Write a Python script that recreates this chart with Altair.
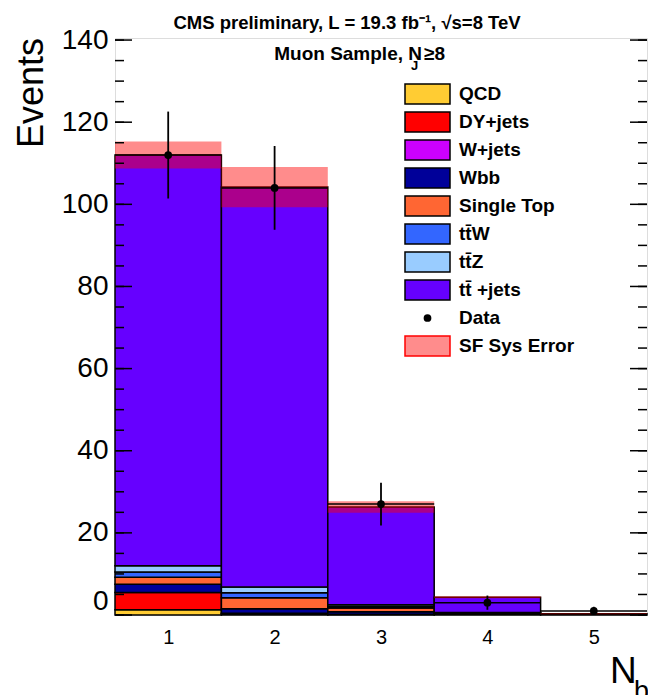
import altair as alt
import pandas as pd
import numpy as np

# ---- data ----
bins = [1, 2, 3, 4, 5]
processes = ["QCD", "DY+jets", "W+jets", "Wbb", "Single Top", "tt̄W", "tt̄Z", "tt̄ +jets"]
colors = ["#ffcc33", "#ff0000", "#cc00ff", "#000099", "#ff6633", "#3366ff", "#99ccff", "#6600ff"]
qcd = [1.3, 0.3, 0.1, 0.0, 0.0]
dy = [4.2, 0.1, 0.1, 0.0, 0.0]
wjets = [0.0, 0.0, 0.0, 0.0, 0.0]
wbb = [2.0, 1.1, 0.6, 0.2, 0.0]
single_top = [1.7, 2.7, 0.9, 0.2, 0.0]
ttw = [1.3, 1.2, 0.4, 0.1, 0.0]
ttz = [1.5, 1.4, 0.4, 0.1, 0.0]
ttjets = [100.0, 97.4, 23.8, 3.7, 0.3]
sf_sys_err = [3.3, 4.9, 1.4, 0.25, 0.1]
data_counts = [112, 104, 27, 3, 1]
y_major = [0, 20, 40, 60, 80, 100, 120, 140]
y_minor = list(range(0, 141, 5))

series = [qcd, dy, wjets, wbb, single_top, ttw, ttz, ttjets]

# ---- build tables ----
rows = []
cum = np.zeros(len(bins))
for name, vals in zip(processes, series):
    for i, b in enumerate(bins):
        v = vals[i]
        if v > 0:
            rows.append({"proc": name, "lo": b - 0.5, "hi": b + 0.5,
                         "y0": cum[i], "y1": cum[i] + v})
    cum = cum + np.array(vals)
stack_df = pd.DataFrame(rows)

total = cum
band_df = pd.DataFrame({"lo": [b - 0.5 for b in bins], "hi": [b + 0.5 for b in bins],
                        "b0": total - np.array(sf_sys_err), "b1": total + np.array(sf_sys_err)})
data_df = pd.DataFrame({"x": bins, "lo": [b - 0.5 for b in bins], "hi": [b + 0.5 for b in bins],
                        "n": data_counts,
                        "e0": [n - np.sqrt(n) for n in data_counts],
                        "e1": [n + np.sqrt(n) for n in data_counts]})
major_df = pd.DataFrame({"v": y_major})
minor_df = pd.DataFrame({"v": y_minor})

leg_labels = processes + ["Data", "SF Sys Error"]
leg_df = pd.DataFrame({"label": leg_labels})
box_df = pd.DataFrame({"label": processes, "col": colors})

W, H = 532, 577
FONT = "Liberation Sans"
xs = alt.Scale(domain=[0.5, 5.5], nice=False, zero=False)
ys = alt.Scale(domain=[0, 140.5], nice=False, zero=False)

bars = alt.Chart(stack_df).mark_rect(stroke="black", strokeWidth=1.5).encode(
    x=alt.X("lo:Q", scale=xs, axis=alt.Axis(values=bins, format="d", labelFontSize=20, labelFont=FONT,
                                            labelColor="black", labelPadding=12, ticks=False,
                                            domain=False, grid=False, title=None)),
    x2="hi:Q",
    y=alt.Y("y0:Q", scale=ys, axis=alt.Axis(values=y_major, labelFontSize=28, labelFont=FONT,
                                            labelColor="black", labelPadding=7, ticks=False,
                                            domain=False, grid=False, title=None, labelFlush=1)),
    y2="y1:Q",
    fill=alt.Fill("proc:N", scale=alt.Scale(domain=processes, range=colors), legend=None),
)

band = alt.Chart(band_df).mark_rect(fill="#ff0000", fillOpacity=0.45, strokeWidth=0).encode(
    x=alt.X("lo:Q", scale=xs), x2="hi:Q",
    y=alt.Y("b0:Q", scale=ys, axis=None), y2="b1:Q")

hbar = alt.Chart(data_df).mark_rule(color="black", strokeWidth=1.5).encode(
    x=alt.X("lo:Q", scale=xs), x2="hi:Q", y=alt.Y("n:Q", scale=ys, axis=None))
vbar = alt.Chart(data_df).mark_rule(color="black", strokeWidth=1.8).encode(
    x=alt.X("x:Q", scale=xs), y=alt.Y("e0:Q", scale=ys, axis=None), y2="e1:Q")
pts = alt.Chart(data_df).mark_circle(color="black", size=60, opacity=1).encode(
    x=alt.X("x:Q", scale=xs), y=alt.Y("n:Q", scale=ys, axis=None))

tick_l_major = alt.Chart(major_df).mark_rule(color="black", strokeWidth=1.5).encode(
    y=alt.Y("v:Q", scale=ys, axis=None), x=alt.value(0), x2=alt.value(17))
tick_l_minor = alt.Chart(minor_df).mark_rule(color="black", strokeWidth=1.5).encode(
    y=alt.Y("v:Q", scale=ys, axis=None), x=alt.value(0), x2=alt.value(9))
tick_r_major = alt.Chart(major_df).mark_rule(color="black", strokeWidth=1.5).encode(
    y=alt.Y("v:Q", scale=ys, axis=None), x=alt.value(W - 17), x2=alt.value(W))
tick_r_minor = alt.Chart(minor_df).mark_rule(color="black", strokeWidth=1.5).encode(
    y=alt.Y("v:Q", scale=ys, axis=None), x=alt.value(W - 9), x2=alt.value(W))

ls = alt.Scale(type="point", domain=leg_labels, range=[56, 56 + 28 * 9], padding=0)
rect_path = "M-2.25,-1L2.25,-1L2.25,1L-2.25,1Z"
leg_boxes = alt.Chart(box_df).mark_point(shape=rect_path, size=400, filled=True, stroke="black",
                                         strokeWidth=1.5, opacity=1).encode(
    x=alt.value(312.5), y=alt.Y("label:N", scale=ls, axis=None),
    fill=alt.Fill("col:N", scale=None))
leg_data = alt.Chart(pd.DataFrame({"label": ["Data"]})).mark_circle(color="black", size=60, opacity=1).encode(
    x=alt.value(312.5), y=alt.Y("label:N", scale=ls, axis=None))
leg_err = alt.Chart(pd.DataFrame({"label": ["SF Sys Error"]})).mark_point(
    shape=rect_path, size=400, filled=True, fill="#ff0000", fillOpacity=0.45, stroke="#ff0000",
    strokeWidth=1.5, strokeOpacity=1).encode(
    x=alt.value(312.5), y=alt.Y("label:N", scale=ls, axis=None))
leg_text = alt.Chart(leg_df).mark_text(align="left", baseline="middle", font=FONT, fontSize=19,
                                       fontWeight="bold", color="black").encode(
    x=alt.value(344), y=alt.Y("label:N", scale=ls, axis=None), text="label:N")

def txt(s, x, y, size, weight="normal", align="left", baseline="alphabetic", angle=0):
    kw = dict(align=align, baseline=baseline, font=FONT, fontSize=size, fontWeight=weight,
              color="black", text=s)
    if angle:
        kw["angle"] = angle
    return alt.Chart(pd.DataFrame({"a": [0]})).mark_text(**kw).encode(x=alt.value(x), y=alt.value(y))

title = txt("CMS preliminary, L = 19.3 fb⁻¹, √s=8 TeV", 232, -9, 18.5, "bold", "center")
sub1 = txt("Muon Sample, N", 307, 22, 19, "bold", "right")
sub2 = txt("J", 296, 32, 13, "bold", "left")
sub3 = txt("≥8", 309, 22, 19, "bold", "left")
ytitle = txt("Events", -72, 0, 36, "normal", "right", "alphabetic", 270)
xt1 = txt("N", 495, 645, 37, "normal", "left")
xt2 = txt("b", 519, 662, 27, "normal", "left")

chart = alt.layer(
    bars, band, hbar, vbar, pts,
    tick_l_major, tick_l_minor, tick_r_major, tick_r_minor,
    leg_boxes, leg_data, leg_err, leg_text,
    title, sub1, sub2, sub3, ytitle, xt1, xt2
).resolve_scale(y="independent").properties(
    width=W, height=H,
    autosize=alt.AutoSizeParams(type="none"),
    padding={"left": 115, "top": 38, "right": 1, "bottom": 80},
).configure_view(stroke="black", strokeWidth=2).configure(background="white")

chart.save("out.html", embed_options={"renderer": "svg", "actions": False})
